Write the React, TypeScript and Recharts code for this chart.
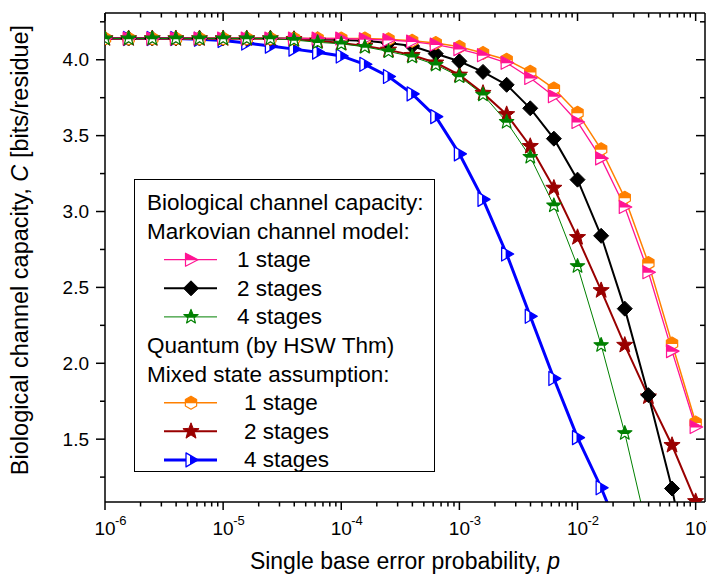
import React from 'react';
import { LineChart, Line, XAxis, YAxis } from 'recharts';

const pValues = [
  1e-6, 1.585e-6, 2.512e-6, 3.981e-6, 6.31e-6,
  1e-5, 1.585e-5, 2.512e-5, 3.981e-5, 6.31e-5,
  1e-4, 1.585e-4, 2.512e-4, 3.981e-4, 6.31e-4,
  1e-3, 1.585e-3, 2.512e-3, 3.981e-3, 6.31e-3,
  1e-2, 1.585e-2, 2.512e-2, 3.981e-2, 6.31e-2,
  1e-1,
];

// Markovian channel model
const markov1 = [4.14, 4.14, 4.14, 4.14, 4.14, 4.14, 4.14, 4.14, 4.14, 4.14, 4.14, 4.135, 4.13, 4.12, 4.1, 4.07, 4.03, 3.98, 3.88, 3.76, 3.59, 3.35, 3.03, 2.6, 2.08, 1.58];
const markov2 = [4.14, 4.14, 4.14, 4.14, 4.14, 4.14, 4.14, 4.14, 4.14, 4.135, 4.13, 4.125, 4.11, 4.09, 4.04, 3.99, 3.92, 3.835, 3.68, 3.48, 3.21, 2.84, 2.36, 1.79, 1.175, 0.4];
const markov4 = [4.14, 4.14, 4.14, 4.14, 4.14, 4.14, 4.14, 4.14, 4.13, 4.115, 4.105, 4.085, 4.055, 4.02, 3.967, 3.89, 3.77, 3.59, 3.36, 3.04, 2.64, 2.12, 1.54, 0.87, null, null];
// Quantum (HSW), mixed state assumption
const quantum1 = [4.14, 4.14, 4.14, 4.14, 4.14, 4.14, 4.14, 4.14, 4.14, 4.14, 4.14, 4.14, 4.135, 4.125, 4.11, 4.085, 4.045, 4.0, 3.92, 3.81, 3.65, 3.41, 3.09, 2.66, 2.13, 1.61];
const quantum2 = [4.14, 4.14, 4.14, 4.14, 4.14, 4.14, 4.14, 4.14, 4.135, 4.125, 4.11, 4.09, 4.065, 4.03, 3.98, 3.9, 3.78, 3.64, 3.43, 3.155, 2.83, 2.48, 2.12, 1.78, 1.46, 1.09];
const quantum4 = [4.14, 4.14, 4.14, 4.14, 4.135, 4.127, 4.11, 4.09, 4.07, 4.05, 4.025, 3.97, 3.89, 3.775, 3.625, 3.38, 3.08, 2.72, 2.31, 1.9, 1.51, 1.18, 0.8, null, null, null];

const xTicks = [
  1e-6, 2e-6, 3e-6, 4e-6, 5e-6, 6e-6, 7e-6, 8e-6, 9e-6,
  1e-5, 2e-5, 3e-5, 4e-5, 5e-5, 6e-5, 7e-5, 8e-5, 9e-5,
  1e-4, 2e-4, 3e-4, 4e-4, 5e-4, 6e-4, 7e-4, 8e-4, 9e-4,
  1e-3, 2e-3, 3e-3, 4e-3, 5e-3, 6e-3, 7e-3, 8e-3, 9e-3,
  1e-2, 2e-2, 3e-2, 4e-2, 5e-2, 6e-2, 7e-2, 8e-2, 9e-2,
  1e-1,
];
const yTicks = [1.25, 1.5, 1.75, 2.0, 2.25, 2.5, 2.75, 3.0, 3.25, 3.5, 3.75, 4.0, 4.25];

const data = pValues.map((p, i) => ({
  p,
  m1: markov1[i],
  m2: markov2[i],
  m4: markov4[i],
  q1: quantum1[i],
  q2: quantum2[i],
  q4: quantum4[i],
}));

const FONT = '"Liberation Sans", Arial, Helvetica, sans-serif';
const PINK = '#FF1493';
const ORANGE = '#FF8000';
const GREEN = '#008000';
const DARKRED = '#990000';
const BLUE = '#0000FF';

const isMajor = (v: number) => {
  const e = Math.round(Math.log10(v));
  return Math.abs(v / Math.pow(10, e) - 1) < 1e-6;
};

// ---- marker geometry ----
type Pt = [number, number];

const toPath = (pts: Pt[]) =>
  pts.length ? pts.map((p, i) => `${i === 0 ? 'M' : 'L'}${p[0]},${p[1]}`).join(' ') + ' Z' : '';

// keep the part of a polygon where side(pt) >= 0 (side is linear)
const clipPoly = (pts: Pt[], side: (p: Pt) => number): Pt[] => {
  const out: Pt[] = [];
  for (let i = 0; i < pts.length; i++) {
    const a = pts[i];
    const b = pts[(i + 1) % pts.length];
    const sa = side(a);
    const sb = side(b);
    if (sa >= 0) out.push(a);
    if ((sa >= 0) !== (sb >= 0)) {
      const t = sa / (sa - sb);
      out.push([a[0] + (b[0] - a[0]) * t, a[1] + (b[1] - a[1]) * t]);
    }
  }
  return out;
};

const triPts = (cx: number, cy: number, l: number, r: number, h: number): Pt[] => [
  [cx - l, cy - h],
  [cx + r, cy],
  [cx - l, cy + h],
];
const diamondPts = (cx: number, cy: number, s: number): Pt[] => [
  [cx, cy - s],
  [cx + s, cy],
  [cx, cy + s],
  [cx - s, cy],
];
const starPts = (cx: number, cy: number, R: number, r: number): Pt[] => {
  const pts: Pt[] = [];
  for (let i = 0; i < 10; i++) {
    const a = (-90 + i * 36) * Math.PI / 180;
    const rad = i % 2 === 0 ? R : r;
    pts.push([cx + rad * Math.cos(a), cy + rad * Math.sin(a)]);
  }
  return pts;
};
const hexPts = (cx: number, cy: number, r: number): Pt[] => {
  const pts: Pt[] = [];
  for (let i = 0; i < 6; i++) {
    const a = (-90 + i * 60) * Math.PI / 180;
    pts.push([cx + r * Math.cos(a), cy + r * Math.sin(a)]);
  }
  return pts;
};

const HalfMarker = ({ pts, part, color, sw }: { pts: Pt[]; part: Pt[]; color: string; sw: number }) => (
  <g>
    <path d={toPath(pts)} fill="#fff" stroke="none" />
    <path d={toPath(part)} fill={color} stroke="none" />
    <path d={toPath(pts)} fill="none" stroke={color} strokeWidth={sw} strokeLinejoin="round" />
  </g>
);

type Kind = 'm1' | 'm2' | 'm4' | 'q1' | 'q2' | 'q4';

const MarkerShape = ({ kind, cx, cy }: { kind: Kind; cx: number; cy: number }) => {
  switch (kind) {
    case 'm1': {
      const pts = triPts(cx, cy, 5.5, 7, 6.5);
      return <HalfMarker pts={pts} part={clipPoly(pts, (p) => cy + 0.5 - p[1])} color={PINK} sw={1.2} />;
    }
    case 'm2':
      return <path d={toPath(diamondPts(cx, cy, 7.5))} fill="#000" stroke="#000" strokeWidth={1} />;
    case 'm4': {
      const pts = starPts(cx, cy, 7.5, 3.2);
      return <HalfMarker pts={pts} part={clipPoly(pts, (p) => cy + 0.8 - p[1])} color={GREEN} sw={1.2} />;
    }
    case 'q1': {
      const pts = hexPts(cx, cy, 6.5);
      return <HalfMarker pts={pts} part={clipPoly(pts, (p) => cy + 0.5 - p[1])} color={ORANGE} sw={1.2} />;
    }
    case 'q2':
      return <path d={toPath(starPts(cx, cy, 8.5, 3.6))} fill={DARKRED} stroke={DARKRED} strokeWidth={1} strokeLinejoin="round" />;
    case 'q4': {
      const pts = triPts(cx, cy, 5, 7, 7);
      return <HalfMarker pts={pts} part={clipPoly(pts, (p) => p[0] - (cx - 1))} color={BLUE} sw={1.3} />;
    }
  }
  return null;
};

const makeDot = (kind: Kind) => (props: any) => {
  const { cx, cy, index } = props;
  if (cx == null || cy == null || Number.isNaN(cx) || Number.isNaN(cy)) {
    return <g key={`${kind}-${index}`} />;
  }
  return (
    <g key={`${kind}-${index}`}>
      <MarkerShape kind={kind} cx={cx} cy={cy} />
    </g>
  );
};

// ---- ticks ----
const BottomTick = (props: any) => {
  const { x, y, payload } = props;
  const v = payload.value;
  const major = isMajor(v);
  const e = Math.round(Math.log10(v));
  return (
    <g>
      <line x1={x} y1={y} x2={x} y2={y + (major ? 8 : 4.5)} stroke="#000" strokeWidth={1.5} />
      {major && (
        <g fontFamily={FONT} fill="#000">
          <text x={x} y={y + 33} fontSize={19} textAnchor="middle">10</text>
          <text x={x + 10} y={y + 23} fontSize={13} textAnchor="start">{String(e)}</text>
        </g>
      )}
    </g>
  );
};

const TopTick = (props: any) => {
  const { x, y, payload } = props;
  const major = isMajor(payload.value);
  return <line x1={x} y1={y} x2={x} y2={y + (major ? 8 : 4.5)} stroke="#000" strokeWidth={1.5} />;
};

const LeftTick = (props: any) => {
  const { x, y, payload } = props;
  const v = payload.value;
  const major = Math.abs(v * 2 - Math.round(v * 2)) < 1e-6;
  return (
    <g>
      <line x1={x} y1={y} x2={x - (major ? 9 : 5)} y2={y} stroke="#000" strokeWidth={1.5} />
      {major && (
        <text x={x - 16} y={y + 6.5} fontSize={19} fontFamily={FONT} textAnchor="end" fill="#000">
          {v.toFixed(1)}
        </text>
      )}
    </g>
  );
};

const RightTick = (props: any) => {
  const { x, y, payload } = props;
  const v = payload.value;
  const major = Math.abs(v * 2 - Math.round(v * 2)) < 1e-6;
  return <line x1={x} y1={y} x2={x - (major ? 9 : 5)} y2={y} stroke="#000" strokeWidth={1.5} />;
};

const legendRows: Array<{ label: string; kind?: Kind; color?: string; width?: number; indent?: number }> = [
  { label: 'Biological channel capacity:' },
  { label: 'Markovian channel model:' },
  { label: '1 stage', kind: 'm1', color: PINK, width: 1.3, indent: 103 },
  { label: '2 stages', kind: 'm2', color: '#000', width: 2, indent: 103 },
  { label: '4 stages', kind: 'm4', color: GREEN, width: 1, indent: 103 },
  { label: 'Quantum (by HSW Thm)' },
  { label: 'Mixed state assumption:' },
  { label: '1 stage', kind: 'q1', color: ORANGE, width: 1.5, indent: 110 },
  { label: '2 stages', kind: 'q2', color: DARKRED, width: 2, indent: 110 },
  { label: '4 stages', kind: 'q4', color: BLUE, width: 3, indent: 110 },
];

const LegendBox = () => (
  <div
    style={{
      position: 'absolute',
      left: 134,
      top: 179,
      width: 301,
      height: 293,
      border: '1.3px solid #000',
      boxSizing: 'border-box',
      background: '#fff',
    }}
  >
    <svg width={301} height={293} style={{ position: 'absolute', left: -1, top: -1, overflow: 'visible' }}>
      {legendRows.map((r, i) => {
        const base = 31 + i * 28.6;
        const cy = base - 7.5;
        return (
          <g key={i}>
            {r.kind && (
              <g>
                <line x1={30} y1={cy} x2={83} y2={cy} stroke={r.color} strokeWidth={r.width} />
                <MarkerShape kind={r.kind} cx={57} cy={cy} />
              </g>
            )}
            <text x={r.indent ?? 13} y={base} fontSize={22.5} fontFamily={FONT} fill="#000">
              {r.label}
            </text>
          </g>
        );
      })}
    </svg>
  </div>
);

export default function App() {
  return (
    <div style={{ position: 'absolute', left: 0, top: 0, width: 707, height: 577, background: '#fff' }}>
      <LineChart width={707} height={577} data={data} margin={{ top: 12, right: 1, bottom: 15, left: 0 }}>
        <XAxis
          dataKey="p"
          type="number"
          scale="log"
          domain={[1e-6, 0.12]}
          allowDataOverflow
          ticks={xTicks}
          interval={0}
          tickSize={0}
          tickMargin={0}
          tickLine={false}
          tick={BottomTick}
          axisLine={{ stroke: '#000', strokeWidth: 1.5 }}
          height={60}
          label={() => (
            <text x={405} y={569} fontSize={23} fontFamily={FONT} textAnchor="middle" fill="#000">
              Single base error probability, <tspan fontStyle="italic">p</tspan>
            </text>
          )}
        />
        <XAxis
          xAxisId="top"
          orientation="top"
          dataKey="p"
          type="number"
          scale="log"
          domain={[1e-6, 0.12]}
          allowDataOverflow
          ticks={xTicks}
          interval={0}
          tickSize={0}
          tickMargin={0}
          tickLine={false}
          tick={TopTick}
          axisLine={{ stroke: '#000', strokeWidth: 1.5 }}
          height={1}
        />
        <YAxis
          type="number"
          domain={[1.086, 4.308]}
          allowDataOverflow
          ticks={yTicks}
          interval={0}
          tickSize={0}
          tickMargin={0}
          tickLine={false}
          tick={LeftTick}
          axisLine={{ stroke: '#000', strokeWidth: 1.5 }}
          width={105}
          label={() => (
            <text
              x={28}
              y={250}
              transform="rotate(-90, 28, 250)"
              fontSize={23.5}
              fontFamily={FONT}
              textAnchor="middle"
              fill="#000"
            >
              Biological channel capacity, <tspan fontStyle="italic">C</tspan> [bits/residue]
            </text>
          )}
        />
        <YAxis
          yAxisId="right"
          orientation="right"
          type="number"
          domain={[1.086, 4.308]}
          allowDataOverflow
          ticks={yTicks}
          interval={0}
          tickSize={0}
          tickMargin={0}
          tickLine={false}
          tick={RightTick}
          axisLine={{ stroke: '#000', strokeWidth: 1.5 }}
          width={1}
        />
        <Line dataKey="q4" stroke={BLUE} strokeWidth={3} dot={makeDot('q4')} activeDot={false} isAnimationActive={false} />
        <Line dataKey="q2" stroke={DARKRED} strokeWidth={2} dot={makeDot('q2')} activeDot={false} isAnimationActive={false} />
        <Line dataKey="m2" stroke="#000" strokeWidth={2} dot={makeDot('m2')} activeDot={false} isAnimationActive={false} />
        <Line dataKey="q1" stroke={ORANGE} strokeWidth={1.5} dot={makeDot('q1')} activeDot={false} isAnimationActive={false} />
        <Line dataKey="m1" stroke={PINK} strokeWidth={1.3} dot={makeDot('m1')} activeDot={false} isAnimationActive={false} />
        <Line dataKey="m4" stroke={GREEN} strokeWidth={1} dot={makeDot('m4')} activeDot={false} isAnimationActive={false} />
      </LineChart>
      <LegendBox />
    </div>
  );
}
